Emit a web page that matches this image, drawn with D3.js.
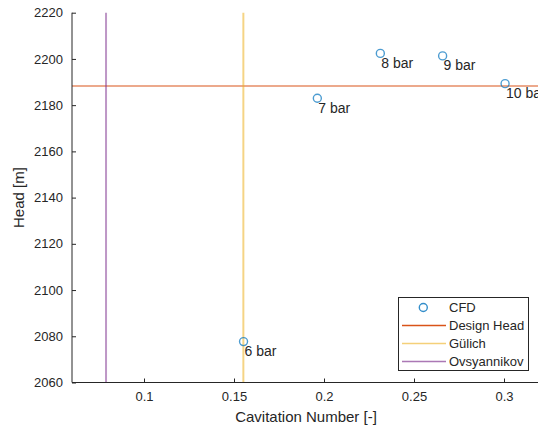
<!DOCTYPE html>
<html><head><meta charset="utf-8">
<script src="https://cdn.jsdelivr.net/npm/d3@7"></script>
<style>body{margin:0;background:#fff}svg{display:block;font-family:"Liberation Sans",Arial,sans-serif}</style>
</head><body><svg id="c" width="538" height="429"></svg>
<script>
const labels = ["6 bar","7 bar","8 bar","9 bar","10 bar"];
const cavNum = [0.1553,0.1963,0.2313,0.2659,0.3006];
const head = [2077.7,2183.0,2202.4,2201.3,2189.3];
const designHead = 2188.3;
const gulich = 0.1552;
const ovsyannikov = 0.0789;
const xTicks = [0.1,0.15,0.2,0.25,0.3];
const yTicks = [2060,2080,2100,2120,2140,2160,2180,2200,2220];

const svg = d3.select("#c");
const L=72, R=538+2, T=12.7, B=382.5;
const x = d3.scaleLinear().domain([0.06,0.06+(R-L)/1800]).range([L,R]);
const y = d3.scaleLinear().domain([2060,2220]).range([B,T]);
const ink="#262626";
const cBlue="#0072BD", cOr="#D95319", cYe="#EDB120", cPu="#7E2F8E";

// reference lines
svg.append("line").attr("x1",L).attr("x2",R).attr("y1",y(designHead)).attr("y2",y(designHead))
  .attr("stroke",cOr).attr("stroke-opacity",0.5).attr("stroke-width",2);
svg.append("line").attr("x1",x(gulich)).attr("x2",x(gulich)).attr("y1",T).attr("y2",B)
  .attr("stroke",cYe).attr("stroke-opacity",0.55).attr("stroke-width",2);
svg.append("line").attr("x1",x(ovsyannikov)).attr("x2",x(ovsyannikov)).attr("y1",T).attr("y2",B)
  .attr("stroke",cPu).attr("stroke-opacity",0.5).attr("stroke-width",2);

// axes
const xa = svg.append("g").attr("transform",`translate(0,${B})`)
  .call(d3.axisBottom(x).tickValues(xTicks).tickSize(-4).tickPadding(9).tickFormat(d=>String(d)));
const ya = svg.append("g").attr("transform",`translate(${L},0)`)
  .call(d3.axisLeft(y).tickValues(yTicks).tickSize(-4).tickPadding(9).tickFormat(d=>String(d)));
[xa,ya].forEach(g=>{
  g.select(".domain").attr("stroke",ink);
  g.selectAll(".tick line").attr("stroke",ink);
  g.selectAll("text").attr("fill",ink).attr("font-size",13).attr("font-family","Liberation Sans, Arial, sans-serif");
});
xa.select(".domain").attr("d",`M${L},0H${R}`);
ya.select(".domain").attr("d",`M0,${B}V${T}`);

// points
svg.selectAll("circle.pt").data(cavNum).join("circle").attr("class","pt")
  .attr("cx",d=>x(d)).attr("cy",(d,i)=>y(head[i])).attr("r",4)
  .attr("fill","none").attr("stroke",cBlue).attr("stroke-opacity",0.7).attr("stroke-width",1.4);
svg.selectAll("text.lbl").data(labels).join("text").attr("class","lbl")
  .attr("x",(d,i)=>x(cavNum[i])+1).attr("y",(d,i)=>y(head[i])+14.5)
  .attr("font-size",14).attr("fill",ink).text(d=>d);

// axis titles
svg.append("text").attr("x",306).attr("y",422).attr("text-anchor","middle")
  .attr("font-size",15).attr("fill",ink).text("Cavitation Number [-]");
svg.append("text").attr("transform",`translate(24,${(T+B)/2}) rotate(-90)`).attr("text-anchor","middle")
  .attr("font-size",15).attr("fill",ink).text("Head [m]");

// legend
const lg = svg.append("g");
lg.append("rect").attr("x",398.5).attr("y",297.5).attr("width",130).attr("height",73)
  .attr("fill","#fff").attr("stroke",ink).attr("stroke-width",1);
const legNames=["CFD","Design Head","Gülich","Ovsyannikov"];
const legCols=[cBlue,cOr,cYe,cPu];
const legOp=[1,1,0.6,0.65];
legNames.forEach((n,i)=>{
  const yy=307.5+i*17.8;
  if(i===0){
    lg.append("circle").attr("cx",423.3).attr("cy",yy).attr("r",4).attr("fill","none")
      .attr("stroke",cBlue).attr("stroke-opacity",0.8).attr("stroke-width",1.4);
  } else {
    lg.append("line").attr("x1",402).attr("x2",446).attr("y1",Math.round(yy)+0.5).attr("y2",Math.round(yy)+0.5)
      .attr("stroke",legCols[i]).attr("stroke-opacity",legOp[i]).attr("stroke-width",1.5);
  }
  lg.append("text").attr("x",449).attr("y",yy+4.7).attr("font-size",13).attr("fill",ink).text(n);
});
</script></body></html>
